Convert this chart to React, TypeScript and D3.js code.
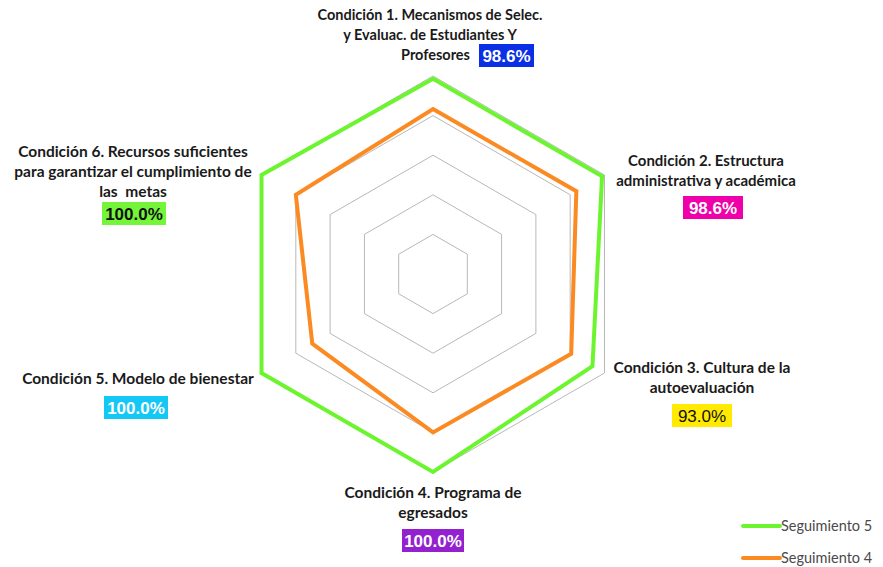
import { useEffect, useRef } from 'react'
import * as d3 from 'd3'

// Chart data
const conditions = ['C1', 'C2', 'C3', 'C4', 'C5', 'C6']
const seguimiento5 = [98.6, 98.6, 93.0, 100.0, 100.0, 100.0]
const seguimiento4 = [83.3, 83.6, 80.6, 80.0, 70.4, 80.0]
const gridTicks = [20, 40, 60, 80, 100]
const seriesNames = ['Seguimiento 5', 'Seguimiento 4']
const seriesColors = ['#6cf52f', '#fb8a22']

// Labels of each axis (lines of text + badge)
const labelLines = [
  ['Condición 1. Mecanismos de Selec.', 'y Evaluac. de Estudiantes Y', 'Profesores'],
  ['Condición 2. Estructura', 'administrativa y académica'],
  ['Condición 3. Cultura de la', 'autoevaluación'],
  ['Condición 4. Programa de', 'egresados'],
  ['Condición 5. Modelo de bienestar'],
  ['Condición 6. Recursos suficientes', 'para garantizar el cumplimiento de', 'las  metas'],
]
const badgeText = ['98.6%', '98.6%', '93.0%', '100.0%', '100.0%', '100.0%']
const badgeFill = ['#0b2fe4', '#ee00aa', '#ffea00', '#9321cf', '#13c8f4', '#75f53a']
const badgeInk = ['#fff', '#fff', '#111', '#fff', '#fff', '#111']

const W = 883
const H = 567

const App = () => {
  const svgRef = useRef<SVGSVGElement | null>(null)

  useEffect(() => {
    const cx = 433
    const cy = 274
    const r = d3.scaleLinear().domain([0, 100]).range([0, 198])
    const angle = d3
      .scaleLinear()
      .domain([0, conditions.length])
      .range([0, 2 * Math.PI])

    const svgEl = d3.select(svgRef.current)
    svgEl.selectAll('*').remove()
    svgEl.append('rect').attr('width', W).attr('height', H).attr('fill', '#fff')
    const g = svgEl.append('g').attr('transform', `translate(${cx},${cy})`)

    // Grid hexagons
    const gridLine = d3
      .lineRadial<number>()
      .angle((_, i) => angle(i))
      .radius((d) => r(d))
      .curve(d3.curveLinearClosed)
    g.selectAll('.grid')
      .data(gridTicks)
      .enter()
      .append('path')
      .attr('d', (t) => gridLine(conditions.map(() => t)))
      .attr('fill', 'none')
      .attr('stroke', '#b8b8b8')
      .attr('stroke-width', 1)

    // Series
    const line = d3
      .lineRadial<number>()
      .angle((_, i) => angle(i))
      .radius((d) => r(d))
      .curve(d3.curveLinearClosed)
    const series = [seguimiento5, seguimiento4]
    g.selectAll('.series')
      .data(series)
      .enter()
      .append('path')
      .attr('d', (d) => line(d))
      .attr('fill', 'none')
      .attr('stroke', (_, i) => seriesColors[i])
      .attr('stroke-width', 4)
      .attr('stroke-linejoin', 'miter')

    // Axis labels
    const labelFont = 'Lato, "Noto Sans", sans-serif'
    const labelPos = [
      { x: 430, y: 20, s: 14.5 },
      { x: 706, y: 166, s: 15 },
      { x: 702, y: 373, s: 15.5 },
      { x: 433, y: 498, s: 15.5 },
      { x: 138, y: 384, s: 15.5 },
      { x: 133, y: 157, s: 15.5 },
    ]
    const lineH = 20
    labelLines.forEach((lines, i) => {
      const p = labelPos[i]
      lines.forEach((txt, j) => {
        svgEl
          .append('text')
          .attr('x', i === 0 && j === 2 ? 470 : p.x)
          .attr('y', p.y + j * lineH)
          .attr('text-anchor', i === 0 && j === 2 ? 'end' : 'middle')
          .style('font-family', labelFont)
          .style('font-weight', '700')
          .style('font-size', `${p.s}px`)
          .style('fill', '#1a1a1a')
          .style('white-space', 'pre')
          .text(txt)
      })
    })

    // Value badges
    const badgePos = [
      { x: 479, y: 44, w: 55 },
      { x: 683, y: 196, w: 60 },
      { x: 672, y: 404, w: 60 },
      { x: 402, y: 529, w: 62 },
      { x: 104, y: 396, w: 64 },
      { x: 102, y: 202, w: 64 },
    ]
    badgePos.forEach((b, i) => {
      svgEl
        .append('rect')
        .attr('x', b.x)
        .attr('y', b.y)
        .attr('width', b.w)
        .attr('height', 23)
        .attr('fill', badgeFill[i])
      svgEl
        .append('text')
        .attr('x', b.x + b.w / 2)
        .attr('y', b.y + 18)
        .attr('text-anchor', 'middle')
        .style('font-family', '"Liberation Sans", Arial, sans-serif')
        .style('font-weight', i === 2 ? '400' : '700')
        .style('font-size', '17px')
        .style('fill', badgeInk[i])
        .text(badgeText[i])
    })

    // Legend
    const legend = svgEl
      .selectAll('.legend')
      .data(seriesNames)
      .enter()
      .append('g')
      .attr('transform', (_, i) => `translate(743,${526 + i * 32})`)
    legend
      .append('line')
      .attr('x1', 0)
      .attr('x2', 37)
      .attr('stroke', (_, i) => seriesColors[i])
      .attr('stroke-width', 4)
      .attr('stroke-linecap', 'round')
    legend
      .append('text')
      .attr('x', 38)
      .attr('y', 5)
      .style('font-family', labelFont)
      .style('font-size', '14.5px')
      .style('fill', '#4a4a4a')
      .text((d) => d)
  }, [])

  return (
    <svg
      ref={svgRef}
      width={W}
      height={H}
      style={{ position: 'absolute', left: 0, top: 0 }}
    />
  )
}

export default App
